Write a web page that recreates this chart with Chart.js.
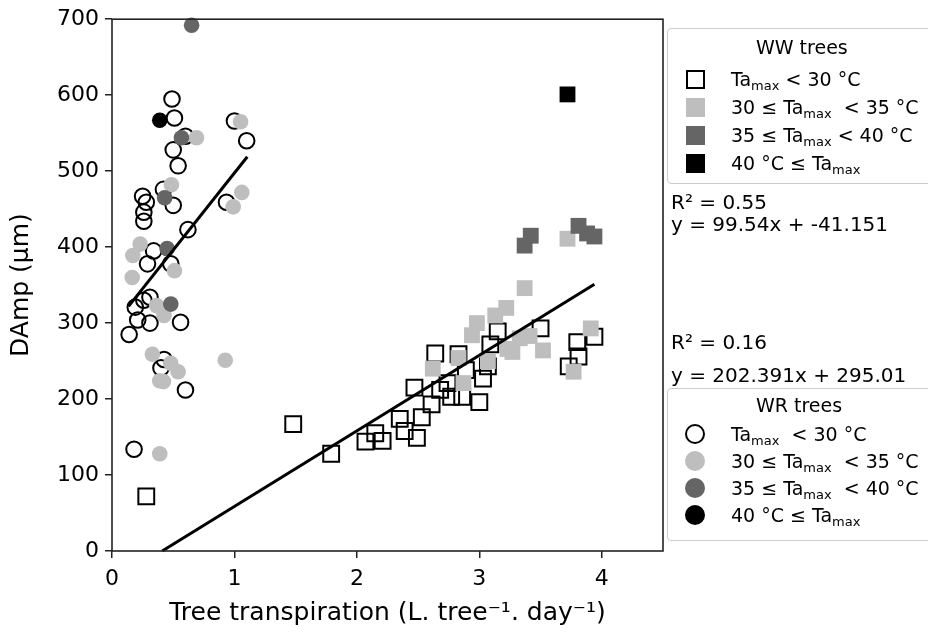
<!DOCTYPE html>
<html>
<head>
<meta charset="utf-8">
<script src="https://cdn.jsdelivr.net/npm/chart.js@4.4.1/dist/chart.umd.min.js"></script>
<style>
body { margin: 0; background: #fff; }
#wrap { position: relative; width: 928px; height: 632px; overflow: hidden; font-family: 'DejaVu Sans', sans-serif; }
#myChart { position: absolute; left: 0; top: 0; }
.box { position: absolute; left: 667px; width: 300px; border: 1px solid #cccccc; border-radius: 4px; background: #fff; }
.lbl { position: absolute; font-size: 19px; line-height: 20px; white-space: pre; color: #000; }
.lbl sub { font-size: 13px; vertical-align: -4px; line-height: 0; }
.note { position: absolute; left: 671px; font-size: 20px; line-height: 22px; white-space: pre; color: #000; }
.mk { position: absolute; box-sizing: border-box; }
</style>
</head>
<body>
<div id="wrap">
  <canvas id="myChart" width="928" height="632"></canvas>
  <div id="legend"></div>
</div>
<script>
// WW trees (squares), by max air temperature class
var wwOpenX = [0.28, 1.48, 1.79, 2.07, 2.15, 2.21, 2.35, 2.39, 2.49, 2.53, 2.47, 2.61, 2.64, 2.68, 2.74, 2.77, 2.86, 2.83, 2.89, 3.0, 3.03, 3.07, 3.09, 3.15, 3.5, 3.73, 3.81, 3.8, 3.94];
var wwOpenY = [72, 167, 128, 144, 155, 145, 174, 158, 149, 176, 215, 193, 260, 212, 221, 203, 203, 259, 238, 196, 227, 243, 272, 289, 293, 243, 256, 275, 282];
var wwLightX = [2.62, 2.83, 2.87, 2.94, 2.98, 3.07, 3.13, 3.22, 3.23, 3.27, 3.33, 3.41, 3.37, 3.52, 3.72, 3.77, 3.91];
var wwLightY = [240, 254, 221, 284, 300, 250, 310, 320, 266, 262, 280, 283, 346, 264, 411, 236, 293];
var wwDarkX = [3.37, 3.42, 3.81, 3.88, 3.94];
var wwDarkY = [402, 415, 428, 418, 414];
var wwBlackX = [3.72];
var wwBlackY = [601];

// WR trees (circles)
var wrOpenX = [0.49, 0.51, 0.6, 0.5, 0.54, 1.0, 1.1, 0.42, 0.5, 0.25, 0.28, 0.935, 0.26, 0.26, 0.62, 0.34, 0.29, 0.48, 0.26, 0.31, 0.19, 0.21, 0.31, 0.56, 0.14, 0.425, 0.4, 0.6, 0.18];
var wrOpenY = [595, 570, 546, 528, 507, 566, 540, 476, 455, 467, 459, 459, 446, 434, 423, 395, 378, 378, 330, 334, 321, 304, 300, 301, 285, 252, 241, 212, 134];
var wrLightX = [0.69, 1.05, 0.485, 1.06, 0.99, 0.23, 0.17, 0.51, 0.165, 0.365, 0.425, 0.33, 0.48, 0.54, 0.39, 0.42, 0.925, 0.39];
var wrLightY = [544, 565, 482, 472, 453, 404, 389, 369, 360, 323, 310, 259, 247, 236, 224, 223, 251, 128];
var wrDarkX = [0.65, 0.567, 0.43, 0.45, 0.48];
var wrDarkY = [692, 544, 465, 398, 325];
var wrBlackX = [0.39];
var wrBlackY = [567];

// regression line end points
var wwFitX = [0.41, 3.94];
var wwFitY = [0, 351];
var wrFitX = [0.135, 1.105];
var wrFitY = [322, 519];

var xTicks = [0, 1, 2, 3, 4];
var yTicks = [0, 100, 200, 300, 400, 500, 600, 700];

var lightGrey = '#bebebe';
var darkGrey = '#656565';

function toPoints(xs, ys) {
    return xs.map(function (x, i) {
        return {x: x, y: ys[i]};
    });
}

function pointSet(xs, ys, shape, fill, order) {
    var open = fill === null;
    return {
        data: toPoints(xs, ys),
        pointStyle: shape,
        pointRadius: shape === 'rect' ? 11.2 : 7.8,
        pointBackgroundColor: open ? 'rgba(0,0,0,0)' : fill,
        pointBorderColor: open ? '#000' : fill,
        pointBorderWidth: open ? 2 : 0,
        showLine: false,
        clip: false,
        order: order
    };
}

function fitSet(xs, ys) {
    return {
        data: toPoints(xs, ys),
        showLine: true,
        borderColor: '#000',
        borderWidth: 3,
        pointRadius: 0,
        clip: false,
        order: 0
    };
}

var framePlugin = {
    id: 'frame',
    afterDatasetsDraw: function (chart) {
        var a = chart.chartArea;
        var c = chart.ctx;
        c.save();
        c.strokeStyle = '#222';
        c.lineWidth = 1.6;
        c.strokeRect(a.left, a.top, a.right - a.left, a.bottom - a.top);
        c.restore();
    }
};

var ctx = document.getElementById('myChart').getContext('2d');
var myChart = new Chart(ctx, {
    type: 'scatter',
    data: {
        datasets: [
            fitSet(wwFitX, wwFitY),
            fitSet(wrFitX, wrFitY),
            pointSet(wwOpenX, wwOpenY, 'rect', null, 4),
            pointSet(wwLightX, wwLightY, 'rect', lightGrey, 3),
            pointSet(wwDarkX, wwDarkY, 'rect', darkGrey, 2),
            pointSet(wwBlackX, wwBlackY, 'rect', '#000', 1),
            pointSet(wrOpenX, wrOpenY, 'circle', null, 4),
            pointSet(wrLightX, wrLightY, 'circle', lightGrey, 3),
            pointSet(wrDarkX, wrDarkY, 'circle', darkGrey, 2),
            pointSet(wrBlackX, wrBlackY, 'circle', '#000', 1)
        ]
    },
    options: {
        responsive: false,
        animation: false,
        events: [],
        layout: {padding: {left: 0, top: 18, right: 265, bottom: 0}},
        plugins: {legend: {display: false}, tooltip: {enabled: false}},
        scales: {
            x: {
                type: 'linear',
                min: 0,
                max: 4.5,
                afterFit: function (scale) { scale.height = 81; },
                afterBuildTicks: function (scale) {
                    scale.ticks = xTicks.map(function (v) { return {value: v}; });
                },
                border: {display: false},
                grid: {drawOnChartArea: false, drawTicks: true, tickLength: 7, color: '#222', lineWidth: 1.5},
                ticks: {padding: 8, color: '#000', font: {family: 'DejaVu Sans', size: 22}},
                title: {
                    display: true,
                    text: 'Tree transpiration (L. tree\u207B\u00B9. day\u207B\u00B9)',
                    color: '#000',
                    font: {family: 'DejaVu Sans', size: 25},
                    padding: {top: 0, bottom: 4}
                }
            },
            y: {
                type: 'linear',
                min: 0,
                max: 700,
                afterFit: function (scale) { scale.width = 112; },
                afterBuildTicks: function (scale) {
                    scale.ticks = yTicks.map(function (v) { return {value: v}; });
                },
                border: {display: false},
                grid: {drawOnChartArea: false, drawTicks: true, tickLength: 7, color: '#222', lineWidth: 1.5},
                ticks: {padding: 6, color: '#000', font: {family: 'DejaVu Sans', size: 22}},
                title: {
                    display: true,
                    text: 'DAmp (\u00B5m)',
                    color: '#000',
                    font: {family: 'DejaVu Sans', size: 25},
                    padding: {top: 6, bottom: 0}
                }
            }
        }
    },
    plugins: [framePlugin]
});

// legend boxes and fit notes, drawn as html text beside the chart
var T = 'Ta<sub>max</sub>';
var wwRows = [
    ['sq', '#fff', T + ' &lt; 30 \u00B0C'],
    ['sq', lightGrey, '30 \u2264 ' + T + '  &lt; 35 \u00B0C'],
    ['sq', darkGrey, '35 \u2264 ' + T + ' &lt; 40 \u00B0C'],
    ['sq', '#000', '40 \u00B0C \u2264 ' + T]
];
var wrRows = [
    ['ci', '#fff', T + '  &lt; 30 \u00B0C'],
    ['ci', lightGrey, '30 \u2264 ' + T + '  &lt; 35 \u00B0C'],
    ['ci', darkGrey, '35 \u2264 ' + T + '  &lt; 40 \u00B0C'],
    ['ci', '#000', '40 \u00B0C \u2264 ' + T]
];

function legendBlock(top, height, title, titleY, rows, rowYs) {
    var html = '<div class="box" style="top:' + top + 'px;height:' + height + 'px"></div>';
    html += '<div class="lbl" style="left:756px;top:' + (titleY - 10) + 'px">' + title + '</div>';
    rows.forEach(function (r, i) {
        var cy = rowYs[i];
        var size = r[0] === 'sq' ? 19 : 20;
        var style = 'left:' + (695 - size / 2) + 'px;top:' + (cy - size / 2) + 'px;width:' + size + 'px;height:' + size + 'px;background:' + r[1] + ';';
        if (r[1] === '#fff') style += 'border:2px solid #000;';
        if (r[0] === 'ci') style += 'border-radius:50%;';
        html += '<div class="mk" style="' + style + '"></div>';
        html += '<div class="lbl" style="left:731px;top:' + (cy - 10) + 'px">' + r[2] + '</div>';
    });
    return html;
}

var html = '';
html += legendBlock(28, 154, 'WW trees', 47, wwRows, [79, 107, 135, 163]);
html += '<div class="note" style="top:191px">R\u00B2 = 0.55</div>';
html += '<div class="note" style="top:213px">y = 99.54x + -41.151</div>';
html += '<div class="note" style="top:331px">R\u00B2 = 0.16</div>';
html += '<div class="note" style="top:364px">y = 202.391x + 295.01</div>';
html += legendBlock(388, 151, 'WR trees', 405, wrRows, [434, 461, 488, 515]);
document.getElementById('legend').innerHTML = html;
</script>
</body>
</html>
